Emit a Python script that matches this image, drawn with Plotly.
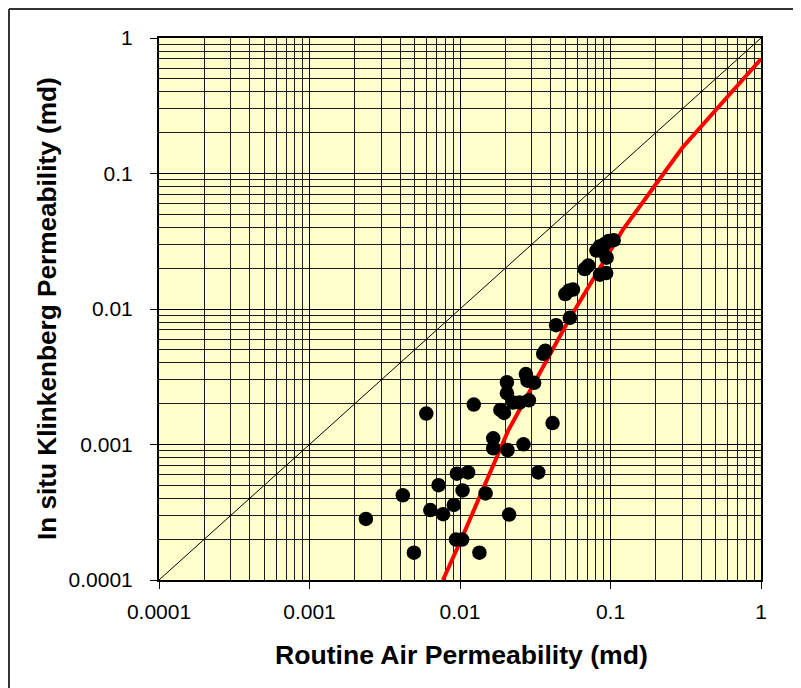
import plotly.graph_objects as go

# Measured data: routine air permeability vs in situ Klinkenberg permeability (md)
air_perm = [0.00237, 0.00417, 0.00494, 0.00597, 0.00635, 0.0072, 0.00772, 0.0091,
            0.00954, 0.0094, 0.01033, 0.0104, 0.01132, 0.01235, 0.01346, 0.01479,
            0.01663, 0.01663, 0.01854, 0.0196, 0.0205, 0.0205, 0.0207, 0.0212,
            0.0225, 0.0249, 0.0264, 0.0274, 0.0281, 0.0287, 0.0311, 0.0331,
            0.0357, 0.0369, 0.0412, 0.0435, 0.0501, 0.0533, 0.0563, 0.0537,
            0.0674, 0.0712, 0.0807, 0.0846, 0.0852, 0.0936, 0.0942, 0.0908,
            0.0973, 0.105, 0.087]
insitu_perm = [0.000282, 0.000422, 0.000159, 0.00169, 0.000328, 0.000501, 0.000306, 0.000358,
               0.000609, 0.000199, 0.000199, 0.000458, 0.000622, 0.00197, 0.000159, 0.000435,
               0.00111, 0.000938, 0.0018, 0.00171, 0.00288, 0.00239, 0.00091, 0.000304,
               0.00204, 0.00204, 0.001004, 0.00331, 0.00296, 0.00212, 0.00285, 0.000622,
               0.00467, 0.00492, 0.00144, 0.00759, 0.0129, 0.0137, 0.0139, 0.00861,
               0.0197, 0.0209, 0.027, 0.0289, 0.0179, 0.0184, 0.0239, 0.03,
               0.0318, 0.0322, 0.027]

# Red correlation curve
curve_x = [0.0077, 0.01, 0.021, 0.0535, 0.12, 0.3, 1.0]
curve_y = [0.0001, 0.00019, 0.00128, 0.0085, 0.038, 0.155, 0.70]

# 1:1 line
diag_x = [0.0001, 1.0]
diag_y = [0.0001, 1.0]

tick_vals = [0.0001, 0.001, 0.01, 0.1, 1]
tick_text = ["0.0001", "0.001", "0.01", "0.1", "1"]
minor_vals = [m * 10.0 ** e for e in range(-4, 0) for m in range(2, 10)]

FONT = "Arial, 'Liberation Sans', sans-serif"

fig = go.Figure()
fig.add_trace(go.Scatter(x=diag_x, y=diag_y, mode="lines",
                         line=dict(color="black", width=1), showlegend=False,
                         hoverinfo="skip"))
fig.add_trace(go.Scatter(x=curve_x, y=curve_y, mode="lines",
                         line=dict(color="#FF0000", width=4), showlegend=False))
fig.add_trace(go.Scatter(x=air_perm, y=insitu_perm, mode="markers",
                         marker=dict(color="black", size=14.5, line=dict(width=0)),
                         showlegend=False))

axis_common = dict(
    type="log",
    range=[-4, 0],
    tickmode="array",
    tickvals=tick_vals,
    ticktext=tick_text,
    ticks="outside",
    ticklen=7,
    tickwidth=1,
    tickcolor="black",
    showgrid=True,
    gridcolor="black",
    gridwidth=1,
    minor=dict(tickmode="array", tickvals=minor_vals, showgrid=True,
               gridcolor="#1a1a1a", gridwidth=1, ticks=""),
    showline=True,
    linecolor="black",
    linewidth=2,
    mirror=True,
    zeroline=False,
    tickfont=dict(family=FONT, size=21, color="black"),
)

fig.update_xaxes(**axis_common, ticklabelstandoff=5)
fig.update_yaxes(**axis_common, ticklabelstandoff=13)

fig.update_layout(
    width=793, height=680,
    margin=dict(l=151, r=40, t=30, b=108),
    paper_bgcolor="white",
    plot_bgcolor="#FFFFCC",
    annotations=[
        dict(text="<b>Routine Air Permeability (md)</b>", xref="paper", yref="paper",
             x=0.5025, y=-0.1384, xanchor="center", yanchor="middle", showarrow=False,
             font=dict(family=FONT, size=26.6, color="black")),
        dict(text="<b>In situ Klinkenberg Permeability (md)</b>", xref="paper", yref="paper",
             x=-0.186, y=0.5, xanchor="center", yanchor="middle", showarrow=False,
             textangle=-90, font=dict(family=FONT, size=26.2, color="black")),
    ],
    shapes=[
        dict(type="line", xref="paper", yref="paper", x0=-0.2492, x1=1.07, y0=1.0535, y1=1.0535,
             line=dict(color="#333333", width=2)),
        dict(type="line", xref="paper", yref="paper", x0=-0.2492, x1=-0.2492, y0=1.0535, y1=-0.21,
             line=dict(color="#333333", width=2)),
    ],
)

fig.write_html("out.html")
